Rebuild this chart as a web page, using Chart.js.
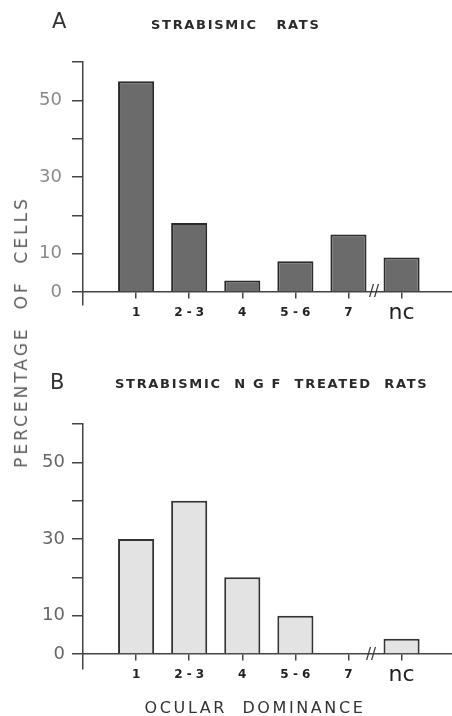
<!DOCTYPE html>
<html>
<head>
<meta charset="utf-8">
<script src="https://cdn.jsdelivr.net/npm/chart.js@4/dist/chart.umd.min.js"></script>
<style>
  html, body { margin: 0; padding: 0; background: #fff; }
  #wrap { position: relative; width: 452px; height: 716px; overflow: hidden; font-family: "DejaVu Sans", sans-serif; }
  canvas { position: absolute; left: 0; }
  #cA { top: 0; }
  #cB { top: 330px; }
  .t { position: absolute; white-space: nowrap; color: #222; }
  .letter { font-size: 21px; font-weight: normal; color: #333; }
  .ptitle { font-size: 13px; font-weight: bold; letter-spacing: 1.7px; color: #2a2a2a; }
  .brk { font-size: 15px; color: #333; }
  #ytitle { position: absolute; left: 21px; top: 332px; transform: translate(-50%, -50%) rotate(-90deg); font-size: 17px; letter-spacing: 3px; color: #5e5e5e; white-space: nowrap; }
  #xtitle { position: absolute; left: 255px; top: 707px; transform: translate(-50%, -50%); font-size: 16px; letter-spacing: 2.6px; color: #333; white-space: nowrap; }
</style>
</head>
<body>
<div id="wrap">
  <canvas id="cA" width="452" height="330"></canvas>
  <canvas id="cB" width="452" height="386"></canvas>
  <div class="t letter" style="left:52px; top:9px;">A</div>
  <div class="t ptitle" style="left:151px; top:17px;">STRABISMIC&nbsp;&nbsp;&nbsp;RATS</div>
  <div class="t letter" style="left:50px; top:370px;">B</div>
  <div class="t ptitle" style="left:115px; top:376px;">STRABISMIC&nbsp;&nbsp;N G F&nbsp;&nbsp;TREATED&nbsp;&nbsp;RATS</div>
  <div class="t brk" style="left:369px; top:282px;">//</div>
  <div class="t brk" style="left:366px; top:645px;">//</div>
  <div id="ytitle">PERCENTAGE&nbsp;&nbsp;OF&nbsp;&nbsp;CELLS</div>
  <div id="xtitle">OCULAR&nbsp;&nbsp;DOMINANCE</div>
</div>
<script>
const categories = ['1', '2 - 3', '4', '5 - 6', '7', 'nc'];
const strabismicValues = [55, 18, 3, 8, 15, 9];
const ngfTreatedValues = [30, 40, 20, 10, 0, 4];
const yTickValues = [0, 10, 20, 30, 40, 50, 60];
const yTickLabels = [0, 10, 30, 50];

function makeChart(id, values, cfg) {
  const ctx = document.getElementById(id);
  return new Chart(ctx, {
    type: 'bar',
    data: {
      datasets: [{
        data: values.map((v, i) => ({ x: i + 1, y: v })),
        backgroundColor: cfg.fill,
        borderColor: cfg.edge,
        borderWidth: 2,
        borderSkipped: 'start',
        categoryPercentage: 1,
        barPercentage: 0.68
      }]
    },
    options: {
      responsive: false,
      animation: false,
      events: [],
      layout: { padding: { top: cfg.padTop, bottom: cfg.padBottom, left: 0, right: 0 } },
      plugins: { legend: { display: false }, tooltip: { enabled: false }, title: { display: false } },
      scales: {
        x: {
          type: 'linear',
          min: 0,
          max: 6.95,
          offset: false,
          position: { y: 0 },
          afterBuildTicks: (axis) => { axis.ticks = categories.map((c, i) => ({ value: i + 1 })); },
          grid: { offset: false, drawOnChartArea: false, drawTicks: true, tickLength: 6, color: '#444', lineWidth: 1.5 },
          border: { display: true, color: '#444', width: 1.5 },
          ticks: {
            padding: 8,
            color: '#222',
            maxRotation: 0,
            autoSkip: false,
            callback: (v) => categories[v - 1] ?? '',
            font: (c) => (c.index === 5)
              ? { family: 'DejaVu Sans', size: 22, weight: 'normal', lineHeight: 0.68 }
              : { family: 'DejaVu Sans', size: 12, weight: 'bold', lineHeight: 1.2 }
          }
        },
        y: {
          type: 'linear',
          min: cfg.yMin,
          max: 60,
          afterBuildTicks: (axis) => { axis.ticks = yTickValues.map(v => ({ value: v })); },
          afterFit: (s) => { s.width = 83; },
          grid: { drawOnChartArea: false, drawTicks: true, tickLength: 11, color: '#444', lineWidth: 1.5 },
          border: { display: true, color: '#444', width: 1.5 },
          ticks: {
            padding: cfg.yPad,
            color: cfg.yColor,
            font: { family: 'DejaVu Sans', size: 18 },
            callback: (v) => yTickLabels.includes(v) ? String(v) : ''
          }
        }
      }
    }
  });
}

makeChart('cA', strabismicValues, { fill: '#6b6b6b', edge: '#2a2a2a', padTop: 62, padBottom: 25, yMin: -3.4, yPad: 10, yColor: '#8a8a8a' });
makeChart('cB', ngfTreatedValues, { fill: '#e3e3e3', edge: '#333', padTop: 94, padBottom: 47, yMin: -3.9, yPad: 7, yColor: '#666' });
</script>
</body>
</html>
